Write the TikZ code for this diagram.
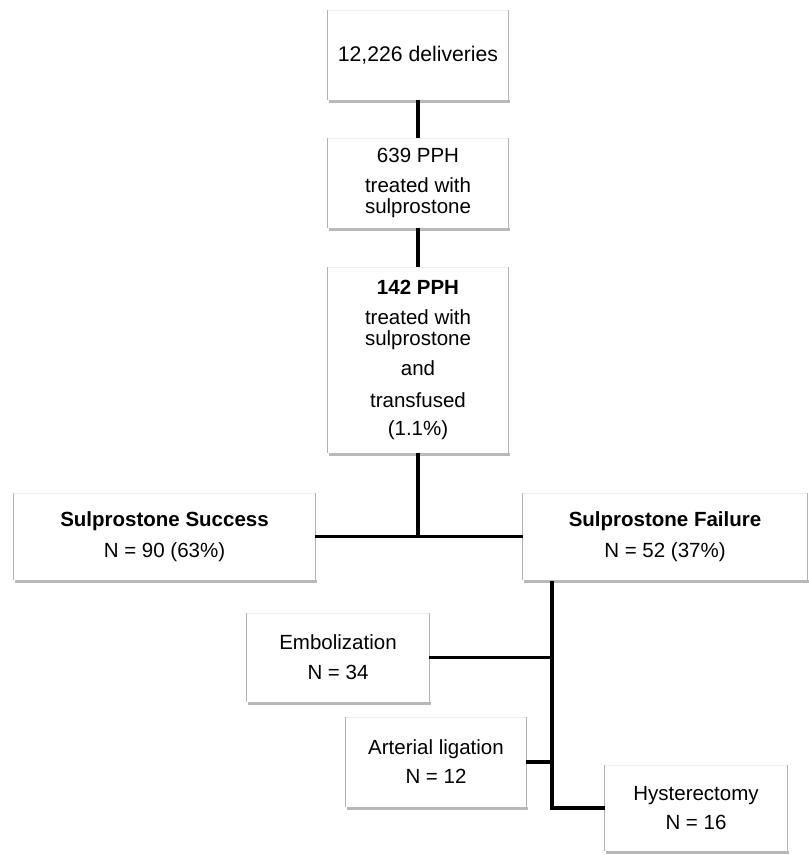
\documentclass[tikz,border=0pt]{standalone}
\usepackage{fontspec}
\setmainfont{Liberation Sans}
\begin{document}
\begin{tikzpicture}[x=1pt,y=-1pt,
  flowbox/.style={inner sep=0pt, fill=white, align=center,
    font=\fontsize{20.5}{20.5}\selectfont},
  sideedge/.style={draw=gray!60, line width=0.9pt},
  topedge/.style={draw=gray!12, line width=0.6pt},
  shadowedge/.style={draw=gray!55, line width=3pt},
  conn/.style={draw=black, line width=3.1pt}]
\useasboundingbox[fill=white] (0,0) rectangle (809,855);
\newcommand\bxedges[1]{%
  \draw[shadowedge] ([xshift=1pt,yshift=-1.5pt]#1.south west) -- ([xshift=1.5pt,yshift=-1.5pt]#1.south east);
  \draw[topedge] (#1.north west) -- (#1.north east);
  \draw[sideedge] (#1.north west) -- (#1.south west);
  \draw[sideedge] (#1.north east) -- (#1.south east);
}
% boxes
\node[flowbox, minimum width=180pt, minimum height=90pt, font=\fontsize{21.2}{21.2}\selectfont] (deliv) at (418,55) {12,226 deliveries};
\node[flowbox, minimum width=180pt, minimum height=90pt] (pph) at (418,183) {639 PPH\\[9.5pt]treated with\\sulprostone};
\node[flowbox, minimum width=180pt, minimum height=186pt] (trans) at (418,360) {\textbf{142 PPH}\\[9.5pt]treated with\\sulprostone\\[9.5pt]and\\[11.5pt]transfused\\[7.5pt](1.1\%)};
\node[flowbox, minimum width=301pt, minimum height=87pt] (succ) at (164.5,536.5) {\textbf{Sulprostone Success}\\[11pt]N = 90 (63\%)};
\node[flowbox, minimum width=284pt, minimum height=87pt] (fail) at (665,536.5) {\textbf{Sulprostone Failure}\\[11pt]N = 52 (37\%)};
\node[flowbox, minimum width=182pt, minimum height=89pt] (embo) at (338,657.5) {Embolization\\[9.5pt]N = 34};
\node[flowbox, minimum width=180pt, minimum height=90pt] (artl) at (436,762) {Arterial ligation\\[8.5pt]N = 12};
\node[flowbox, minimum width=182pt, minimum height=86pt] (hyst) at (696,808) {Hysterectomy\\[8.5pt]N = 16};
\bxedges{deliv}
\bxedges{pph}
\bxedges{trans}
\bxedges{succ}
\bxedges{fail}
\bxedges{embo}
\bxedges{artl}
\bxedges{hyst}
% connectors
\coordinate (ftop) at ([xshift=-113pt,yshift=-1pt]fail.south);
\draw[conn] (deliv.south) -- (pph.north);
\draw[conn] (pph.south) -- (trans.north);
\draw[conn] (trans.south) -- (trans.south |- succ.east);
\draw[conn] (succ.east) -- (fail.west);
\draw[conn, line join=miter] (ftop) -- (ftop |- hyst.west) -- (hyst.west);
\draw[conn] (embo.east) -- (embo.east -| ftop);
\draw[conn] (artl.east) -- (artl.east -| ftop);
\end{tikzpicture}
\end{document}
